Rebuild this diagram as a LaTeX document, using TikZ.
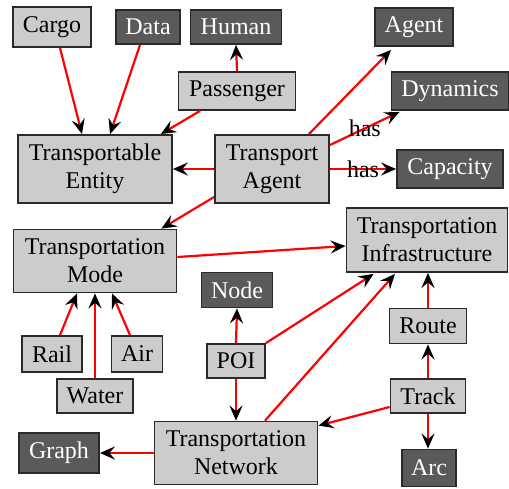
\documentclass[tikz,border=0pt]{standalone}
\usepackage{fontspec}
\setmainfont{Liberation Serif}
\usetikzlibrary{arrows.meta}
\definecolor{lightbox}{HTML}{CCCCCC}
\definecolor{darkbox}{HTML}{5A5A5A}
\definecolor{boxline}{HTML}{2A2A2A}
\tikzset{
  lbox/.style={draw=boxline, line width=1.8pt, fill=lightbox, inner sep=0pt, align=center,
    font=\fontsize{24}{28}\selectfont},
  dbox/.style={lbox, fill=darkbox, text=white},
  rel/.style={draw=red, line width=2.2pt,
    -{Stealth[black, length=15pt, width=13pt, inset=5.5pt]}},
  haslbl/.style={font=\fontsize{24}{28}\selectfont, text=black, inner sep=0pt}
}
\begin{document}
\begin{tikzpicture}[x=1pt, y=-1pt]
\useasboundingbox (0,0) rectangle (509,488);
% nodes
\node[lbox, minimum width=78pt, minimum height=40pt] (cargo) at (52,27) {Cargo};
\node[dbox, minimum width=64pt, minimum height=34pt] (data) at (148,27) {Data};
\node[dbox, minimum width=91pt, minimum height=34pt] (human) at (236,27) {Human};
\node[lbox, minimum width=117pt, minimum height=38pt] (pass) at (237,91) {Passenger};
\node[lbox, minimum width=154pt, minimum height=68pt] (te) at (95,169) {Transportable\\Entity};
\node[lbox, minimum width=114pt, minimum height=68pt] (ta) at (272,169) {Transport\\Agent};
\node[dbox, minimum width=78pt, minimum height=38pt] (agent) at (414,27) {Agent};
\node[dbox, minimum width=117pt, minimum height=38pt] (dyn) at (450,91) {Dynamics};
\node[dbox, minimum width=106pt, minimum height=38pt] (cap) at (450,169) {Capacity};
\node[lbox, minimum width=163pt, minimum height=63pt] (tmode) at (95,261) {Transportation\\Mode};
\node[lbox, minimum width=161pt, minimum height=64pt] (tinfra) at (427,240) {Transportation\\Infrastructure};
\node[dbox, minimum width=71pt, minimum height=35pt] (nodeb) at (237,290) {Node};
\node[lbox, minimum width=58pt, minimum height=34pt] (poi) at (236,361) {POI};
\node[lbox, minimum width=60pt, minimum height=36pt] (rail) at (52,354) {Rail};
\node[lbox, minimum width=51pt, minimum height=36pt] (air) at (137,354) {Air};
\node[lbox, minimum width=76pt, minimum height=34pt] (water) at (95,396) {Water};
\node[dbox, minimum width=80pt, minimum height=40pt] (graph) at (59,453) {Graph};
\node[lbox, minimum width=163pt, minimum height=63pt] (tnet) at (236,453) {Transportation\\Network};
\node[lbox, minimum width=77pt, minimum height=35pt] (route) at (428,326) {Route};
\node[lbox, minimum width=75pt, minimum height=34pt] (track) at (428,396) {Track};
\node[dbox, minimum width=54pt, minimum height=37pt] (arc) at (429,468) {Arc};
% edges
\draw[rel] ([xshift=8pt]cargo.south) -- ([xshift=-13pt]te.north);
\draw[rel] ([xshift=-8pt]data.south) -- ([xshift=15pt]te.north);
\draw[rel] ([xshift=-37pt]pass.south) -- ([xshift=-12pt]te.north east);
\draw[rel] (pass.north) -- (human.south);
\draw[rel] (ta.west) -- (te.east);
\draw[rel] ([xshift=-21pt]ta.north east) -- ([xshift=17pt,yshift=-3pt]agent.south west);
\draw[rel] ([yshift=24pt]ta.east) -- node[haslbl, pos=0.5]{has} ([xshift=9pt,yshift=-1pt]dyn.south west);
\draw[rel] (ta.east) -- node[haslbl, pos=0.5]{has} (cap.west);
\draw[rel] ([yshift=-28pt]ta.west) -- ([xshift=-16pt]tmode.north east);
\draw[rel] ([yshift=4pt]tmode.east) -- ([yshift=-6pt]tinfra.west);
\draw[rel] (poi.north) -- (nodeb.south);
\draw[rel] (poi.south) -- (tnet.north);
\draw[rel] (poi.north east) -- ([xshift=28pt,yshift=-1pt]tinfra.south west);
\draw[rel] ([xshift=29pt]tnet.north) -- ([xshift=-32pt,yshift=-1pt]tinfra.south);
\draw[rel] (route.north) -- (tinfra.south -| route.north);
\draw[rel] (track.north) -- (route.south);
\draw[rel] (track.south) -- (arc.north -| track.south);
\draw[rel] ([yshift=-11pt]track.west) -- ([yshift=-5pt]tnet.north east);
\draw[rel] ([xshift=8pt]rail.north) -- ([xshift=-18pt]tmode.south);
\draw[rel] (water.north) -- (tmode.south);
\draw[rel] ([xshift=-7pt]air.north) -- ([xshift=17pt]tmode.south);
\draw[rel] (tnet.west) -- (graph.east);
\end{tikzpicture}
\end{document}
